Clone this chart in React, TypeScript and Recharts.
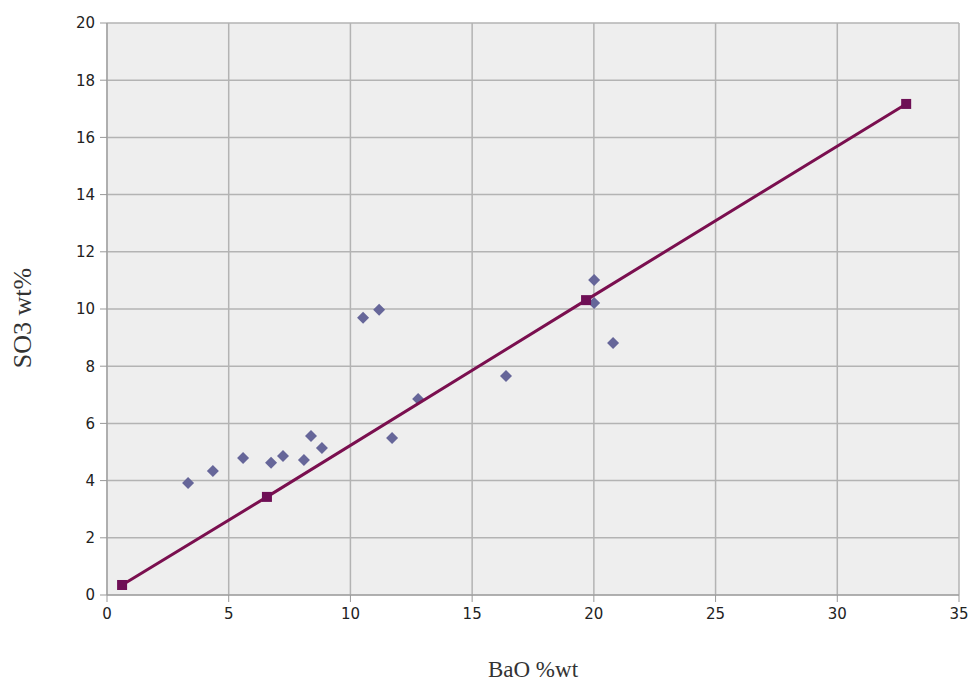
import React from "react"
import {
  ScatterChart,
  Scatter,
  XAxis,
  YAxis,
  CartesianGrid,
} from "recharts"

// measured BaO / SO3 samples
const baoMeasured = [3.33, 4.35, 5.59, 6.74, 7.23, 8.09, 8.38, 8.83, 10.52, 11.18, 11.71, 12.78, 16.39, 20.01, 20.01, 20.79]
const so3Measured = [3.92, 4.34, 4.79, 4.62, 4.86, 4.72, 5.56, 5.14, 9.69, 9.97, 5.49, 6.85, 7.66, 11.01, 10.21, 8.81]

// reference line
const baoLine = [0.62, 6.57, 19.68, 32.83]
const so3Line = [0.35, 3.43, 10.31, 17.17]

const xTicks = [0, 5, 10, 15, 20, 25, 30, 35]
const yTicks = [0, 2, 4, 6, 8, 10, 12, 14, 16, 18, 20]

const measured = baoMeasured.map((x, i) => ({ x, y: so3Measured[i] }))
const line = baoLine.map((x, i) => ({ x, y: so3Line[i] }))

const Diamond = (props: any) => {
  const { cx, cy } = props
  const r = 6
  return (
    <path
      d={`M${cx},${cy - r}L${cx + r},${cy}L${cx},${cy + r}L${cx - r},${cy}Z`}
      fill="#666699"
    />
  )
}

const Square = (props: any) => {
  const { cx, cy } = props
  return <rect x={cx - 5} y={cy - 5} width={10} height={10} fill="#6e0f55" />
}

const tickStyle = { fill: "#222", fontSize: 15, fontFamily: "DejaVu Sans" }
const titleStyle = { fill: "#333", fontSize: 23, fontFamily: "Liberation Serif" }

const YTitle = () => (
  <text
    x={31}
    y={318}
    transform="rotate(-90 31 318)"
    textAnchor="middle"
    fill="#333"
    fontSize={26}
    fontFamily="Liberation Serif"
  >
    SO3 wt%
  </text>
)

export default function App() {
  return (
    <div style={{ position: "absolute", left: 0, top: 0, background: "#fff" }}>
      <ScatterChart
        width={971}
        height={685}
        margin={{ top: 23, right: 12, bottom: 0, left: 0 }}
      >
        <CartesianGrid fill="#eeeeee" stroke="#b3b3b3" strokeWidth={1.5} />
        <XAxis
          type="number"
          dataKey="x"
          domain={[0, 35]}
          ticks={xTicks}
          height={90}
          tick={tickStyle}
          tickSize={7}
          tickMargin={6}
          stroke="#999"
          label={{ value: "BaO %wt", position: "insideBottom", offset: 8, style: titleStyle }}
        />
        <YAxis
          type="number"
          dataKey="y"
          domain={[0, 20]}
          ticks={yTicks}
          width={107}
          tick={tickStyle}
          tickSize={7}
          tickMargin={5}
          stroke="#999"
          label={<YTitle />}
        />
        <Scatter data={measured} shape={<Diamond />} isAnimationActive={false} />
        <Scatter
          data={line}
          shape={<Square />}
          line={{ stroke: "#7a0f4f", strokeWidth: 3 }}
          isAnimationActive={false}
        />
      </ScatterChart>
    </div>
  )
}
